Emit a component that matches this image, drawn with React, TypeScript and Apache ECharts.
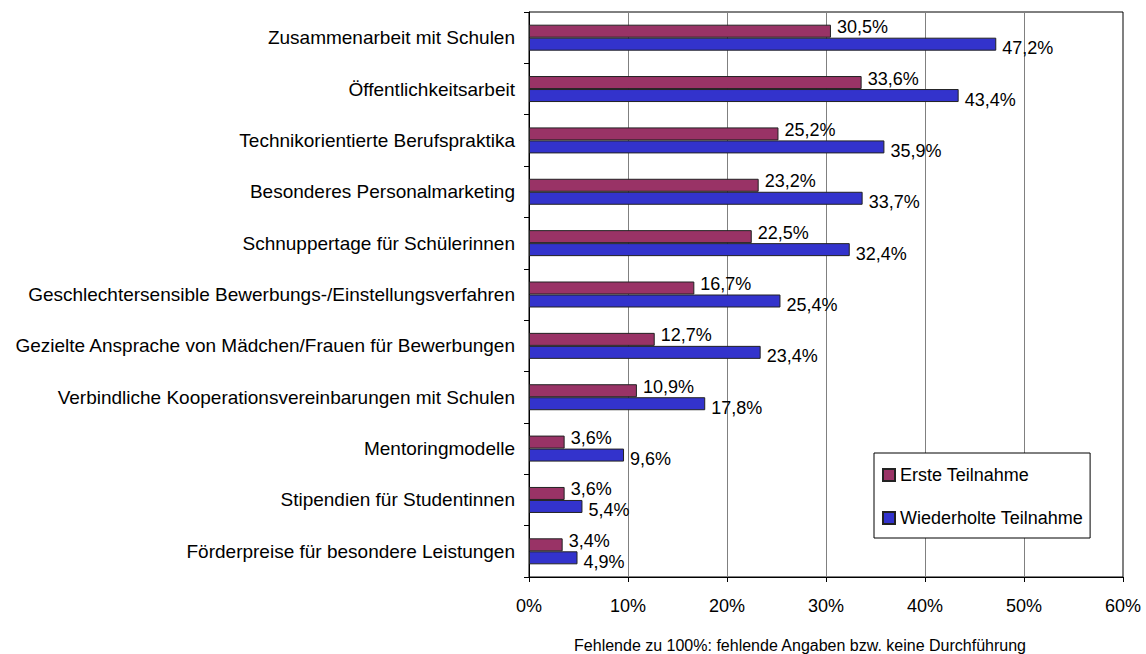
import React, { useEffect, useRef } from "react";
import * as echarts from "echarts";

const categories = [
  "Zusammenarbeit mit Schulen",
  "Öffentlichkeitsarbeit",
  "Technikorientierte Berufspraktika",
  "Besonderes Personalmarketing",
  "Schnuppertage für Schülerinnen",
  "Geschlechtersensible Bewerbungs-/Einstellungsverfahren",
  "Gezielte Ansprache von Mädchen/Frauen für Bewerbungen",
  "Verbindliche Kooperationsvereinbarungen mit Schulen",
  "Mentoringmodelle",
  "Stipendien für Studentinnen",
  "Förderpreise für besondere Leistungen",
];

const ersteTeilnahme = [30.5, 33.6, 25.2, 23.2, 22.5, 16.7, 12.7, 10.9, 3.6, 3.6, 3.4];
const wiederholteTeilnahme = [47.2, 43.4, 35.9, 33.7, 32.4, 25.4, 23.4, 17.8, 9.6, 5.4, 4.9];

const seriesNames = ["Erste Teilnahme", "Wiederholte Teilnahme"];
const xTicks = [0, 10, 20, 30, 40, 50, 60];
const axisTitle = "Fehlende zu 100%: fehlende Angaben bzw. keine Durchführung";

const FONT = "'Liberation Sans', Arial, sans-serif";
const fmt = (v: number) => v.toFixed(1).replace(".", ",") + "%";

export default function App() {
  const ref = useRef<HTMLDivElement>(null);
  useEffect(() => {
    if (!ref.current) return;
    const chart = echarts.init(ref.current, undefined, { renderer: "svg" });
    chart.setOption({
      animation: false,
      backgroundColor: "#ffffff",
      textStyle: { fontFamily: FONT, color: "#000" },
      grid: {
        left: 529,
        right: 23,
        top: 12,
        bottom: 77,
        show: true,
        borderColor: "#000",
        borderWidth: 1,
        backgroundColor: "transparent",
      },
      legend: {
        orient: "vertical",
        left: 874,
        top: 453,
        width: 217,
        padding: [13, 7, 11, 8],
        itemGap: 25,
        itemWidth: 12,
        itemHeight: 12,
        borderColor: "#000",
        borderWidth: 1,
        backgroundColor: "#fff",
        textStyle: { fontFamily: FONT, fontSize: 18, color: "#000", lineHeight: 18 },
        data: seriesNames.map((n) => ({ name: n, icon: "rect" })),
      },
      xAxis: {
        type: "value",
        min: 0,
        max: 60,
        interval: 10,
        axisLine: { show: true, lineStyle: { color: "#000", width: 1 } },
        axisTick: { show: true, length: 5, inside: false, lineStyle: { color: "#000" } },
        axisLabel: {
          margin: 20,
          fontFamily: FONT,
          fontSize: 18,
          color: "#000",
          formatter: (v: number) => (xTicks.includes(v) ? v + "%" : ""),
        },
        splitLine: { show: true, lineStyle: { color: "#808080", width: 1 } },
      },
      yAxis: {
        type: "category",
        data: categories,
        inverse: true,
        axisLine: { show: true, lineStyle: { color: "#000", width: 1 } },
        axisTick: { show: true, length: 5, lineStyle: { color: "#000" } },
        axisLabel: { margin: 14, fontFamily: FONT, fontSize: 19, color: "#000" },
        splitLine: { show: false },
      },
      graphic: [
        {
          type: "text",
          x: 800,
          y: 645,
          style: {
            text: axisTitle,
            fontFamily: FONT,
            fontSize: 16,
            fill: "#000",
            textAlign: "center",
            textVerticalAlign: "middle",
          },
        },
      ],
      series: [
        {
          name: seriesNames[0],
          type: "bar",
          data: ersteTeilnahme,
          barWidth: 13,
          barGap: "0%",
          itemStyle: { color: "#993366", borderColor: "#222", borderWidth: 1 },
          label: {
            show: true,
            position: "right",
            distance: 6,
            offset: [0, -4],
            fontFamily: FONT,
            fontSize: 18,
            color: "#000",
            formatter: (p: any) => fmt(p.value),
          },
        },
        {
          name: seriesNames[1],
          type: "bar",
          data: wiederholteTeilnahme,
          barWidth: 13,
          barGap: "0%",
          itemStyle: { color: "#3333CC", borderColor: "#222", borderWidth: 1 },
          label: {
            show: true,
            position: "right",
            distance: 6,
            offset: [0, 4],
            fontFamily: FONT,
            fontSize: 18,
            color: "#000",
            formatter: (p: any) => fmt(p.value),
          },
        },
      ],
    });
    return () => chart.dispose();
  }, []);
  return (
    <div
      ref={ref}
      style={{ position: "absolute", left: 0, top: 0, width: 1146, height: 654 }}
    />
  );
}
